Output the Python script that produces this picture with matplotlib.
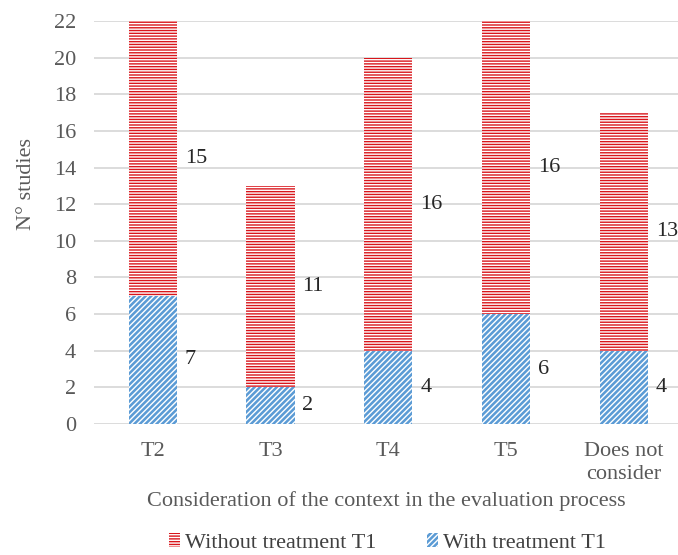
import matplotlib
matplotlib.use('Agg')
import matplotlib.pyplot as plt
import numpy as np

plt.rcParams['font.family'] = ['Liberation Serif', 'DejaVu Serif']
plt.rcParams['hatch.linewidth'] = 1.0

categories = ['T2', 'T3', 'T4', 'T5', 'Does not\nconsider']
with_t1 = [7, 2, 4, 6, 4]
without_t1 = [15, 11, 16, 16, 13]

RED = '#d9161c'
BLUE = '#5b9bd5'
GREY = '#595959'
FS = 16

fig = plt.figure(figsize=(6.78, 5.55), dpi=100)
ax = fig.add_axes([94 / 678, 1 - 424 / 555, 584 / 678, 403 / 555])

x = np.arange(len(categories))
w = 0.41

b1 = ax.bar(x, with_t1, w, color=BLUE, edgecolor='white', linewidth=0,
            hatch='//////', zorder=3)
b2 = ax.bar(x, without_t1, w, bottom=with_t1, color=RED, edgecolor='white',
            linewidth=0, hatch='------', zorder=3)

# value labels to the right of each segment
for i in range(len(categories)):
    ax.text(x[i] + 0.27, with_t1[i] / 2, str(with_t1[i]), ha='left', va='center',
            fontsize=FS, color='#262626')
    ax.text(x[i] + 0.27, with_t1[i] + without_t1[i] / 2, str(without_t1[i]),
            ha='left', va='center', fontsize=FS, color='#262626')

ax.set_xlim(-0.5, 4.46)
ax.set_ylim(0, 22)
ax.set_yticks(range(0, 23, 2))
ax.set_xticks(x)
ax.set_xticklabels(categories, fontsize=FS, color=GREY, linespacing=1.3)
ax.tick_params(axis='y', labelsize=FS, labelcolor=GREY, length=0, pad=13)
ax.tick_params(axis='x', length=0, pad=13)
ax.grid(axis='y', color='#d9d9d9', linewidth=1.3, zorder=0)
ax.set_axisbelow(True)
for s in ax.spines.values():
    s.set_visible(False)

ax.set_ylabel('N° studies', fontsize=FS, color=GREY)
ax.yaxis.set_label_coords(-0.1, 0.595)
ax.set_xlabel('Consideration of the context in the evaluation process',
              fontsize=FS, color=GREY, labelpad=5)

fig.legend([b2, b1], ['Without treatment T1', 'With treatment T1'],
           loc='center', bbox_to_anchor=(0.5715, 0.022), ncol=2,
           frameon=False, fontsize=FS, handlelength=0.5, handleheight=0.6,
           columnspacing=2.3, handletextpad=0.2, labelcolor='#404040',
           borderpad=0)

fig.savefig('out.png', dpi=100)
